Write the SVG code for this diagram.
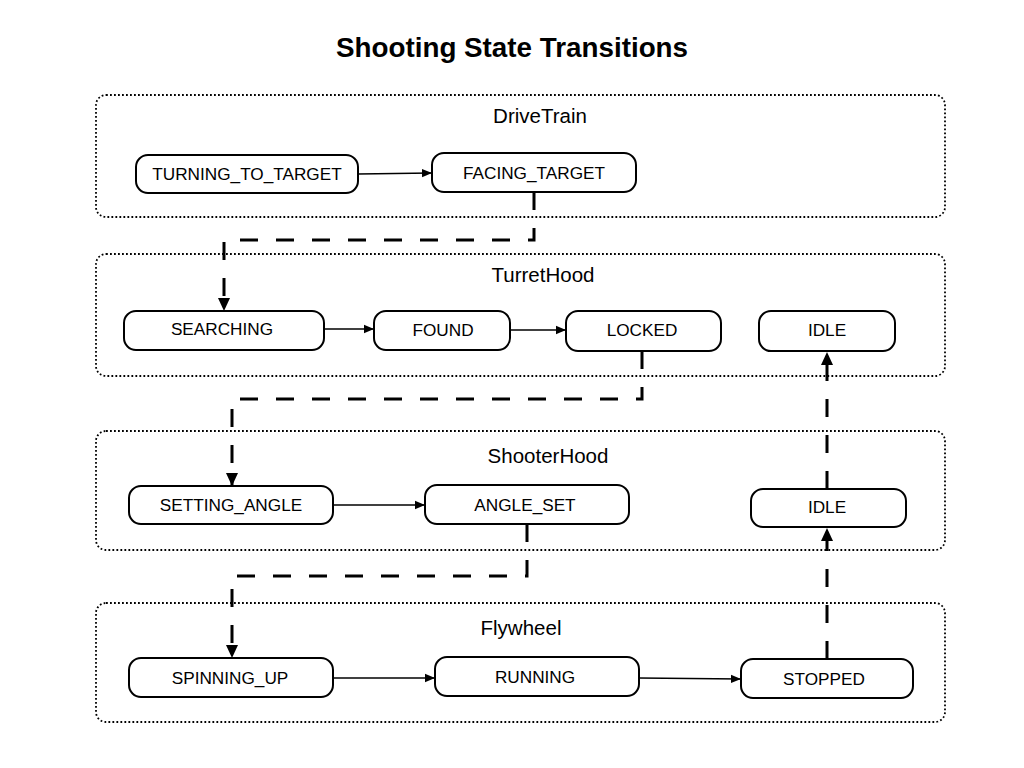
<svg xmlns="http://www.w3.org/2000/svg" width="1024" height="768" viewBox="0 0 1024 768">
<defs>
<style>
.bg{fill:#ffffff}
.title{font-family:"Liberation Sans",Arial,sans-serif;font-size:27.8px;font-weight:bold;fill:#000;text-anchor:middle}
.grp{fill:none;stroke:#000;stroke-width:1.8;stroke-dasharray:1.8 2.2}
.glabel{font-family:"Liberation Sans",Arial,sans-serif;font-size:20.5px;fill:#000;text-anchor:middle}
.node rect{fill:#fff;stroke:#000;stroke-width:2}
.node text{font-family:"Liberation Sans",Arial,sans-serif;font-size:17.2px;fill:#000;text-anchor:middle;dominant-baseline:central}
.solid{fill:none;stroke:#000;stroke-width:1.5;marker-end:url(#arrS)}
.dash{fill:none;stroke:#000;stroke-width:3;stroke-dasharray:18 18;marker-end:url(#arrL)}
</style>
<marker id="arrS" markerUnits="userSpaceOnUse" markerWidth="12" markerHeight="10" refX="10" refY="5" orient="auto">
<path d="M0,0.8 L10,5 L0,9.2 Z" fill="#000"/>
</marker>
<marker id="arrL" markerUnits="userSpaceOnUse" markerWidth="14" markerHeight="14" refX="13" refY="7" orient="auto">
<path d="M0,1 L13,7 L0,13 Z" fill="#000"/>
</marker>
</defs>
<rect class="bg" x="0" y="0" width="1024" height="768"/>
<text class="title" x="512" y="57">Shooting State Transitions</text>

<g id="group-drivetrain">
<rect class="grp" x="96" y="95" width="849" height="122" rx="10"/>
<text class="glabel" x="540" y="123">DriveTrain</text>
</g>
<g id="group-turrethood">
<rect class="grp" x="96" y="254" width="849" height="122" rx="10"/>
<text class="glabel" x="543" y="282">TurretHood</text>
</g>
<g id="group-shooterhood">
<rect class="grp" x="96" y="431" width="849" height="119" rx="10"/>
<text class="glabel" x="548" y="463">ShooterHood</text>
</g>
<g id="group-flywheel">
<rect class="grp" x="96" y="603" width="849" height="119" rx="10"/>
<text class="glabel" x="521" y="635">Flywheel</text>
</g>

<g id="connectors">
<path class="solid" d="M358,174 L432,173"/>
<path class="solid" d="M324,329 L374,329"/>
<path class="solid" d="M510,330 L566,330"/>
<path class="solid" d="M333,505 L425,505"/>
<path class="solid" d="M333,678 L435,678"/>
<path class="solid" d="M639,678 L741,679"/>
<path class="dash" d="M534,192 V240 H224 V311"/>
<path class="dash" d="M642,351 V399 H232 V486"/>
<path class="dash" d="M527,524 V576 H232 V658"/>
<path class="dash" d="M827,489 V352"/>
<path class="dash" d="M827,659 V528"/>
</g>

<g id="node-turning-to-target" class="node"><rect x="136" y="155" width="222" height="38" rx="12"/><text x="247" y="174">TURNING_TO_TARGET</text></g>
<g id="node-facing-target" class="node"><rect x="432" y="153" width="204" height="39" rx="12"/><text x="534" y="173">FACING_TARGET</text></g>
<g id="node-searching" class="node"><rect x="124" y="311" width="200" height="39" rx="12"/><text x="222" y="329">SEARCHING</text></g>
<g id="node-found" class="node"><rect x="374" y="311" width="136" height="39" rx="12"/><text x="443" y="330">FOUND</text></g>
<g id="node-locked" class="node"><rect x="566" y="311" width="155" height="40" rx="12"/><text x="642" y="330">LOCKED</text></g>
<g id="node-turret-idle" class="node"><rect x="759" y="311" width="136" height="40" rx="12"/><text x="827" y="330">IDLE</text></g>
<g id="node-setting-angle" class="node"><rect x="129" y="486" width="204" height="38" rx="12"/><text x="231" y="505">SETTING_ANGLE</text></g>
<g id="node-angle-set" class="node"><rect x="425" y="485" width="204" height="39" rx="12"/><text x="525" y="505">ANGLE_SET</text></g>
<g id="node-shooter-idle" class="node"><rect x="751" y="489" width="155" height="38" rx="12"/><text x="827" y="507">IDLE</text></g>
<g id="node-spinning-up" class="node"><rect x="129" y="658" width="204" height="39" rx="12"/><text x="230" y="678">SPINNING_UP</text></g>
<g id="node-running" class="node"><rect x="435" y="657" width="204" height="39" rx="12"/><text x="535" y="677">RUNNING</text></g>
<g id="node-stopped" class="node"><rect x="741" y="659" width="172" height="39" rx="12"/><text x="824" y="679">STOPPED</text></g>
</svg>
